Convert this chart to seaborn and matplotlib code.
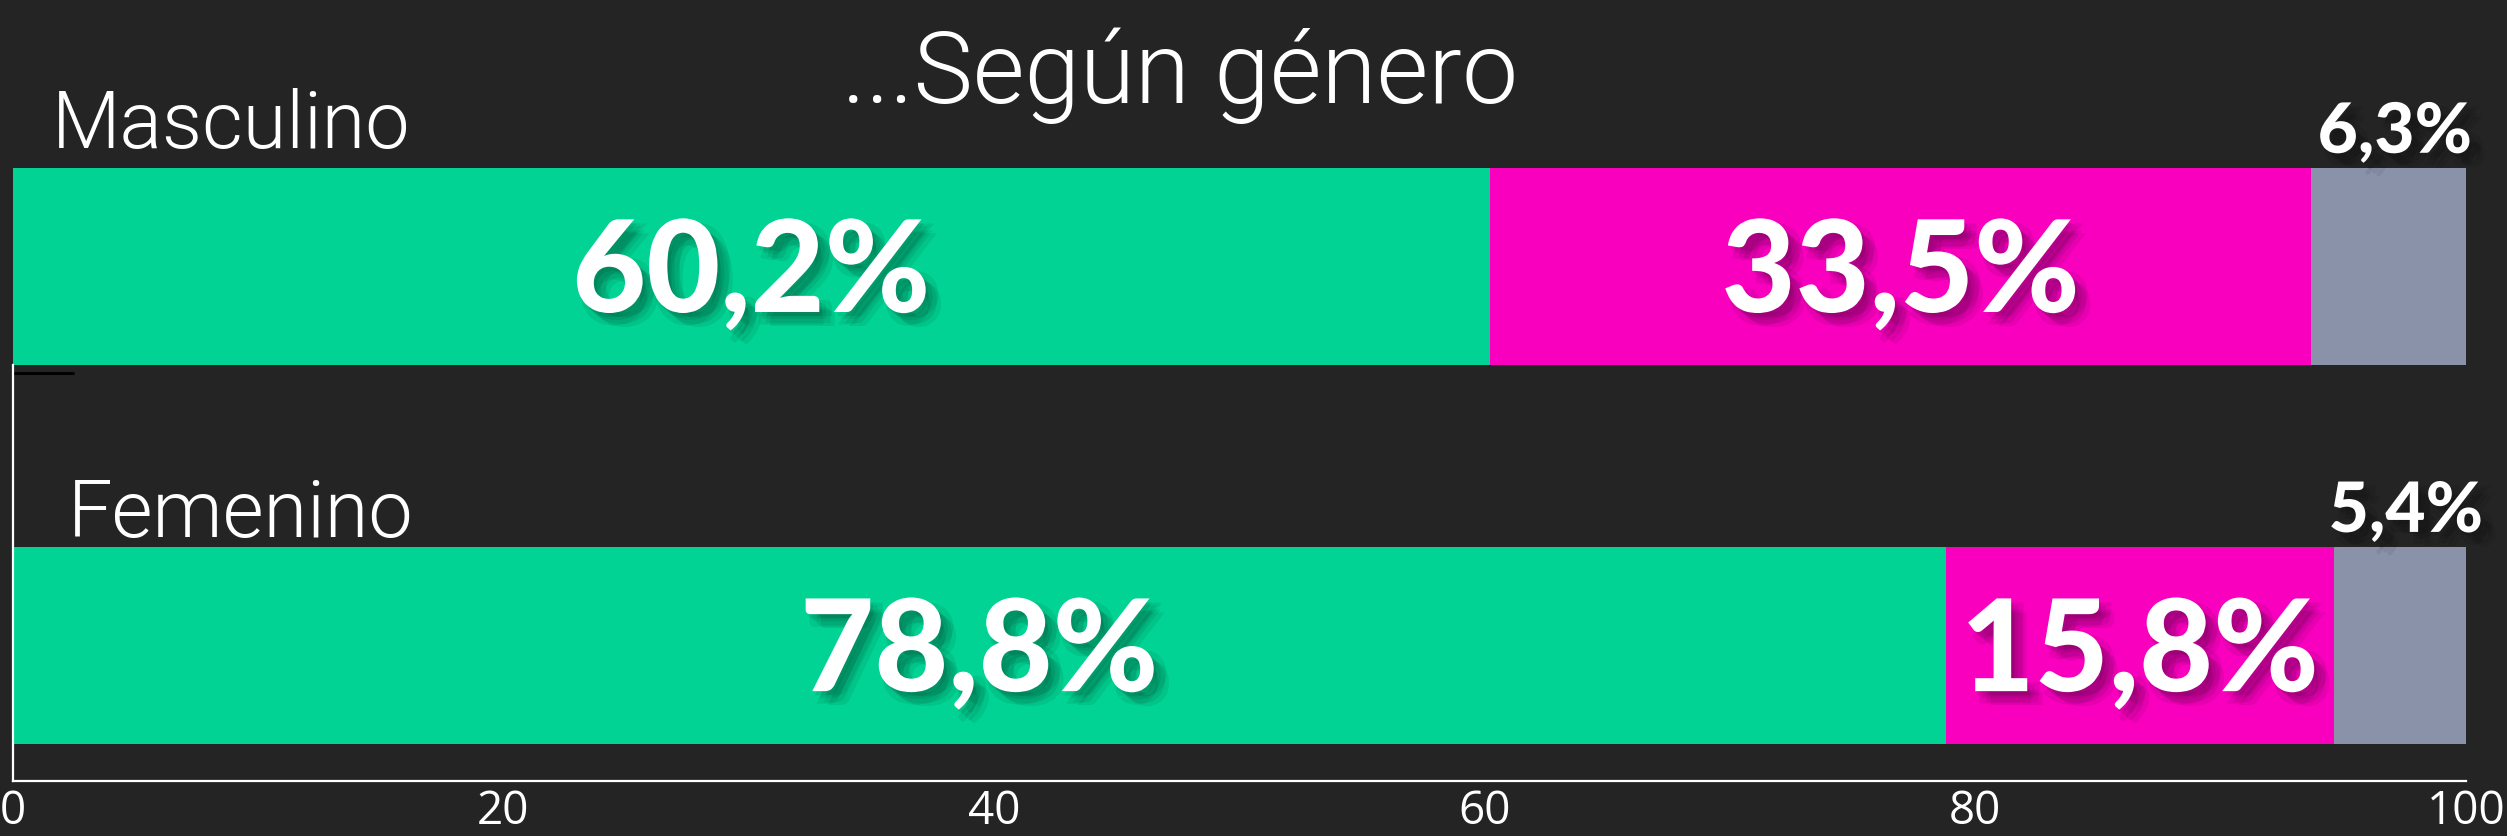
import numpy as np
import pandas as pd
import seaborn as sns
import matplotlib.pyplot as plt
import matplotlib.patheffects as pe

genero = ['Masculino', 'Femenino']
si = [60.2, 78.8]
no = [33.5, 15.8]
ns = [6.3, 5.4]
etiquetas_si = ['60,2%', '78,8%']
etiquetas_no = ['33,5%', '15,8%']
etiquetas_ns = ['6,3%', '5,4%']
ticks_x = [0, 20, 40, 60, 80, 100]

bg = '#242424'
c_si = '#00D393'
c_no = '#F800BE'
c_ns = '#8A92AA'

sns.set_style('white')
plt.rcParams['font.family'] = ['Lato', 'DejaVu Sans']

df = pd.DataFrame({'genero': genero, 'si': si, 'no': no, 'ns': ns})
df['c1'] = df['si']
df['c2'] = df['si'] + df['no']
df['c3'] = df['si'] + df['no'] + df['ns']

fig = plt.figure(figsize=(25.07, 8.36), dpi=100, facecolor=bg)
ax = fig.add_axes([12.6 / 2507, 55 / 836, (2466 - 12.6) / 2507, 781 / 836])
ax.set_facecolor(bg)

# stacked bars: draw cumulative totals, widest first
sns.barplot(data=df, x='c3', y='genero', color=c_ns, orient='h', width=0.52,
            saturation=1, linewidth=0, ax=ax)
sns.barplot(data=df, x='c2', y='genero', color=c_no, orient='h', width=0.52,
            saturation=1, linewidth=0, ax=ax)
sns.barplot(data=df, x='c1', y='genero', color=c_si, orient='h', width=0.52,
            saturation=1, linewidth=0, ax=ax)

ax.set_xlim(0, 100)
ax.set_ylim(1.357, -0.703)
ax.set_xlabel('')
ax.set_ylabel('')

# soft drop shadow (several faint offset copies)
shadow = []
for dx, dy in [(2, -3), (5, -5), (8, -8), (3, -9), (9, -3), (11, -10)]:
    shadow.append(pe.SimplePatchShadow(offset=(dx, dy), shadow_rgbFace='black', alpha=0.07))
shadow.append(pe.Normal())

for i, row in df.iterrows():
    ax.text(row['si'] / 2, i + 0.12, etiquetas_si[i], ha='center', va='baseline',
            color='white', fontsize=92, fontweight='black', path_effects=shadow)
    ax.text(row['si'] + row['no'] / 2, i + 0.12, etiquetas_no[i], ha='center',
            va='baseline', color='white', fontsize=92, fontweight='black',
            path_effects=shadow)
    ax.text(row['c2'] + row['ns'] / 2 + 0.25, i - 0.3, etiquetas_ns[i], ha='center',
            va='baseline', color='white', fontsize=50, fontweight='black',
            path_effects=shadow)

fino = ['Roboto', 'DejaVu Sans']
ax.text(1.6, -0.313, genero[0], ha='left', va='baseline', color='white',
        fontsize=57, fontweight=300, family=fino)
ax.text(2.26, 0.714, genero[1], ha='left', va='baseline', color='white',
        fontsize=57, fontweight=300, family=fino)

fig.text(1180 / 2507, 1 - 103 / 836, '...Según género', ha='center', va='baseline',
         color='white', fontsize=72, fontweight=300, family=fino)

for s in ['top', 'right']:
    ax.spines[s].set_visible(False)
for s in ['left', 'bottom']:
    ax.spines[s].set_color('white')
    ax.spines[s].set_linewidth(1.6)
ax.spines['left'].set_bounds(0.26, 1.357)

ax.set_xticks(ticks_x)
ax.set_xticklabels([str(t) for t in ticks_x], family='Open Sans', fontsize=33,
                   color='white')
ax.tick_params(axis='x', direction='in', length=9.5, width=1.6, color='white', pad=6)
ax.set_yticks([0.281])
ax.set_yticklabels([''])
ax.tick_params(axis='y', direction='in', length=44, width=2.2, color='black', left=True)

fig.savefig('out.png', dpi=100, facecolor=bg)
